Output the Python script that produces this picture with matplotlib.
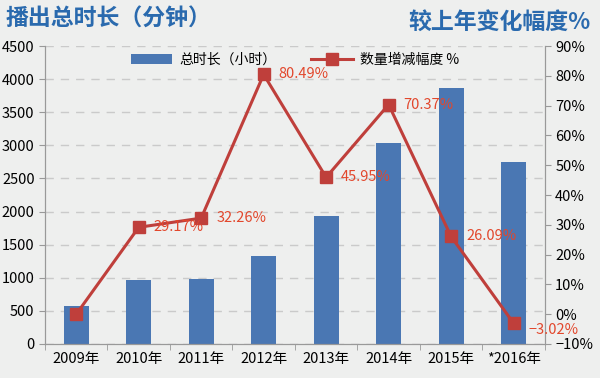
import matplotlib
matplotlib.use("Agg")
import matplotlib.pyplot as plt
import numpy as np

plt.rcParams['font.family'] = ['Noto Sans CJK SC', 'DejaVu Sans']

# data
years = ['2009年', '2010年', '2011年', '2012年', '2013年', '2014年', '2015年', '*2016年']
hours = [575, 970, 985, 1335, 1935, 3035, 3860, 2755]
change = [0.0, 29.17, 32.26, 80.49, 45.95, 70.37, 26.09, -3.02]
change_labels = ['', '29.17%', '32.26%', '80.49%', '45.95%', '70.37%', '26.09%', '\u22123.02%']

bg = '#eeefee'
bar_color = '#4a77b3'
line_color = '#bf3f3b'
label_color = '#e2472c'
title_color = '#2a6aae'

fig = plt.figure(figsize=(6, 3.78), dpi=100, facecolor=bg)
ax = fig.add_axes([0.075, 0.09, 0.833, 0.788], facecolor=bg)
x = np.arange(len(years))

ax.bar(x, hours, width=0.4, color=bar_color, zorder=2, label='总时长（小时）')
ax.set_ylim(0, 4500)
ax.set_yticks(np.arange(0, 4501, 500))
ax.set_xlim(-0.5, len(years) - 0.5)
ax.set_xticks(x)
ax.set_xticklabels(years, fontsize=10.5)
ax.set_xticks(np.arange(-0.5, len(years), 1), minor=True)
ax.tick_params(axis='x', which='major', length=0, pad=6)
ax.tick_params(axis='x', which='minor', length=4, color='#999999')
ax.tick_params(axis='y', labelsize=10.5, length=4, color='#999999')
ax.grid(axis='y', linestyle=(0, (6, 5)), color='#cacaca', linewidth=1, zorder=0)
ax.spines['top'].set_visible(False)
for s in ['left', 'right', 'bottom']:
    ax.spines[s].set_color('#999999')

ax2 = ax.twinx()
ax2.plot(x, change, color=line_color, linewidth=2.2, marker='s', markersize=9,
         zorder=3, label='数量增减幅度 %')
ax2.set_ylim(-10, 90)
ax2.set_yticks(np.arange(-10, 91, 10))
ax2.set_yticklabels([f'{v}%'.replace('-', '\u2212') for v in range(-10, 91, 10)])
ax2.tick_params(axis='y', labelsize=10.5, length=4, color='#999999')
ax2.spines['top'].set_visible(False)
for s in ['left', 'right', 'bottom']:
    ax2.spines[s].set_color('#999999')

for xi, yi, lab in zip(x, change, change_labels):
    if lab:
        # keep the negative label clear of the 0% tick label
        ty = -5.2 if yi < 0 else yi
        ax2.text(xi + 0.24, ty, lab, color=label_color, fontsize=10.5,
                 va='center', ha='left', zorder=4)

h1, l1 = ax.get_legend_handles_labels()
h2, l2 = ax2.get_legend_handles_labels()
ax2.legend(h1 + h2, l1 + l2, loc='upper center', bbox_to_anchor=(0.5, 1.02),
           ncol=2, frameon=False, fontsize=10, handlelength=3, columnspacing=2.5,
           handletextpad=0.5)

fig.text(0.01, 0.95, '播出总时长（分钟）', color=title_color, fontsize=16.5,
         fontweight='bold', va='center', ha='left')
fig.text(0.985, 0.94, '较上年变化幅度%', color=title_color, fontsize=16.5,
         fontweight='bold', va='center', ha='right')

fig.savefig('out.png', dpi=100, facecolor=bg)
